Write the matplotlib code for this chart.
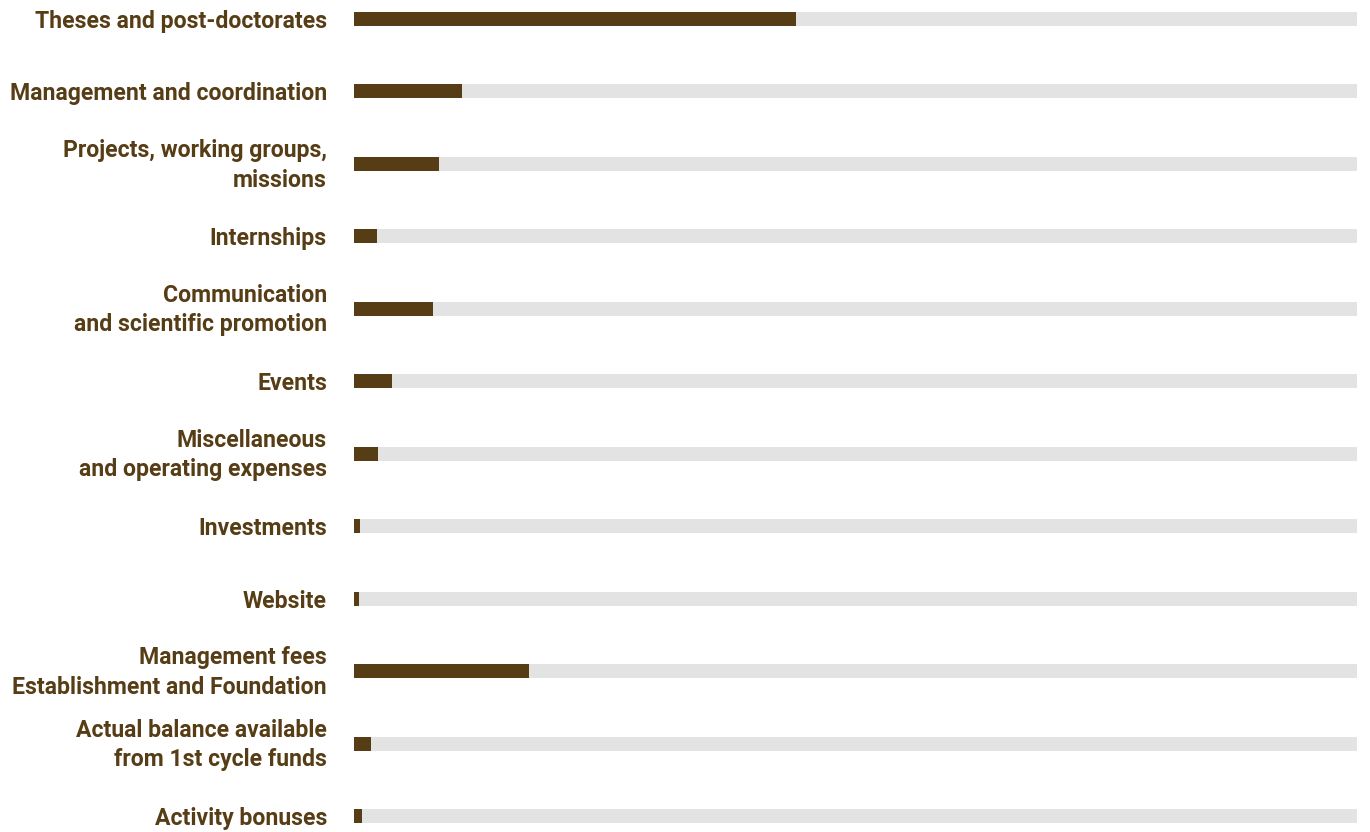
import matplotlib.pyplot as plt
import matplotlib.transforms as mtransforms

plt.rcParams["font.family"] = ["Roboto", "DejaVu Sans"]

# Données (part du budget, %)
categories = [
    "Theses and post-doctorates",
    "Management and coordination",
    "Projects, working groups,\nmissions",
    "Internships",
    "Communication\nand scientific promotion",
    "Events",
    "Miscellaneous\nand operating expenses",
    "Investments",
    "Website",
    "Management fees\nEstablishment and Foundation",
    "Actual balance available\nfrom 1st cycle funds",
    "Activity bonuses",
]
valeurs = [44.1, 10.8, 8.5, 2.3, 7.9, 3.8, 2.4, 0.6, 0.5, 17.4, 1.7, 0.8]
total = 100

brun = "#573d16"
gris = "#e3e3e3"

fig = plt.figure(figsize=(13.7, 8.32), dpi=100)
ax = fig.add_axes([354 / 1370, 0, 1003 / 1370, 1])

pos = list(range(len(categories)))
ax.barh(pos, [total] * len(pos), height=0.193, color=gris)
ax.barh(pos, valeurs, height=0.193, color=brun)

ax.set_xlim(0, total)
ax.set_ylim(11.221, -0.262)
ax.set_yticks(pos)
ax.set_yticklabels(categories, fontsize=16.6, fontweight="bold", color=brun,
                   linespacing=1.35)
ax.tick_params(axis="y", length=0, pad=19.5)
ax.set_xticks([])
for s in ax.spines.values():
    s.set_visible(False)

# remonter un peu les étiquettes sur deux lignes
decal = mtransforms.ScaledTranslation(0, 3 / 72, fig.dpi_scale_trans)
for lab in ax.get_yticklabels():
    if "\n" in lab.get_text():
        lab.set_transform(lab.get_transform() + decal)

plt.savefig("out.png")
